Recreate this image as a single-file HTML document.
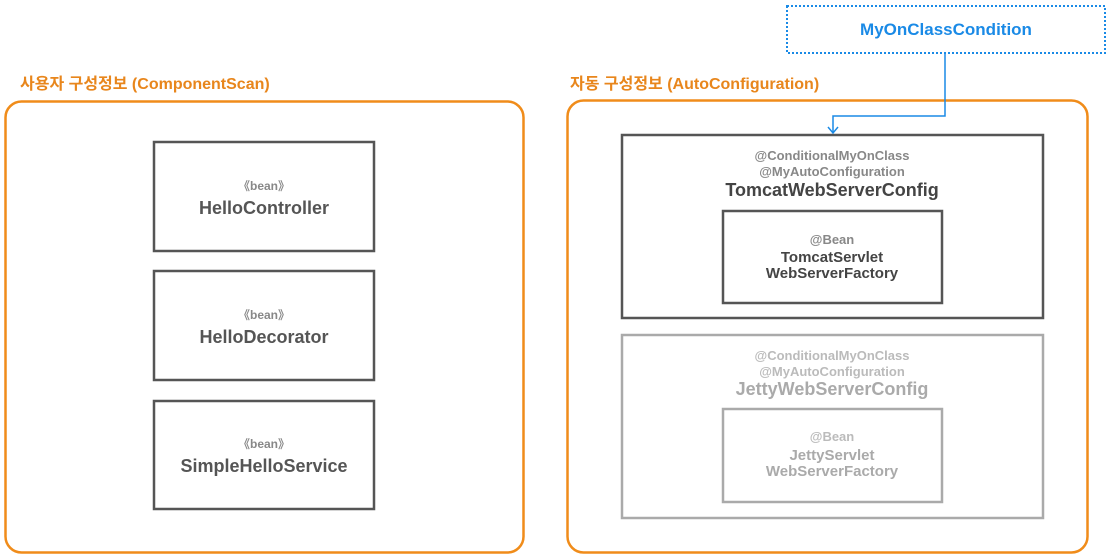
<!DOCTYPE html>
<html><head><meta charset="utf-8"><style>
body{margin:0;background:#fff;width:1112px;height:556px;overflow:hidden}
svg{display:block}
text{font-family:"Liberation Sans","Noto Sans CJK KR",sans-serif;font-weight:bold;text-anchor:middle}
</style></head><body>
<svg width="1112" height="556" viewBox="0 0 1112 556">
<text x="20" y="89" style="text-anchor:start" font-size="16" fill="#e8861c">사용자 구성정보 (ComponentScan)</text>
<text x="570" y="89" style="text-anchor:start" font-size="16" fill="#e8861c">자동 구성정보 (AutoConfiguration)</text>
<rect x="5.5" y="101.5" width="518" height="451" rx="16" fill="none" stroke="#f08c1a" stroke-width="2.5"/>
<rect x="567.5" y="100.5" width="520" height="452" rx="16" fill="none" stroke="#f08c1a" stroke-width="2.5"/>

<g stroke="#555" stroke-width="2.5" fill="#fff">
<rect x="154" y="142" width="220" height="109"/>
<rect x="154" y="271" width="220" height="109"/>
<rect x="154" y="401" width="220" height="108"/>
<rect x="622" y="135" width="421" height="183"/>
<rect x="723" y="211" width="219" height="92"/>
</g>
<g stroke="#aaa" stroke-width="2.5" fill="#fff">
<rect x="622" y="335" width="421" height="183"/>
<rect x="723" y="409" width="219" height="93"/>
</g>
<g fill="#888" font-size="12">
<text x="264" y="190" font-weight="normal">《bean》</text>
<text x="264" y="319" font-weight="normal">《bean》</text>
<text x="264" y="448" font-weight="normal">《bean》</text>
</g>
<g fill="#555" font-size="18">
<text x="264" y="214">HelloController</text>
<text x="264" y="343">HelloDecorator</text>
<text x="264" y="472">SimpleHelloService</text>
</g>
<g fill="#888" font-size="13">
<text x="832" y="160" font-weight="normal">@ConditionalMyOnClass</text>
<text x="832" y="176" font-weight="normal">@MyAutoConfiguration</text>
<text x="832" y="244" font-weight="normal">@Bean</text>
</g>
<text x="832" y="196" font-size="18" fill="#444">TomcatWebServerConfig</text>
<text x="832" y="262" font-size="15" fill="#444">TomcatServlet</text>
<text x="832" y="278" font-size="15" fill="#444">WebServerFactory</text>
<g fill="#bbb" font-size="13">
<text x="832" y="360" font-weight="normal">@ConditionalMyOnClass</text>
<text x="832" y="376" font-weight="normal">@MyAutoConfiguration</text>
<text x="832" y="441" font-weight="normal">@Bean</text>
</g>
<text x="832" y="395" font-size="18" fill="#aaa">JettyWebServerConfig</text>
<text x="832" y="460" font-size="15" fill="#aaa">JettyServlet</text>
<text x="832" y="476" font-size="15" fill="#aaa">WebServerFactory</text>

<rect x="787" y="6" width="318" height="47" fill="#fff" stroke="#1a8ae6" stroke-width="2" stroke-dasharray="2 2"/>
<text x="946" y="35" font-size="17" fill="#1a8ae6">MyOnClassCondition</text>
<polyline points="945,53 945,116 833,116 833,133" fill="none" stroke="#1a8ae6" stroke-width="1.5"/>
<polyline points="828,127 833,133 838,127" fill="none" stroke="#1a8ae6" stroke-width="1.5"/>
</svg>
</body></html>
